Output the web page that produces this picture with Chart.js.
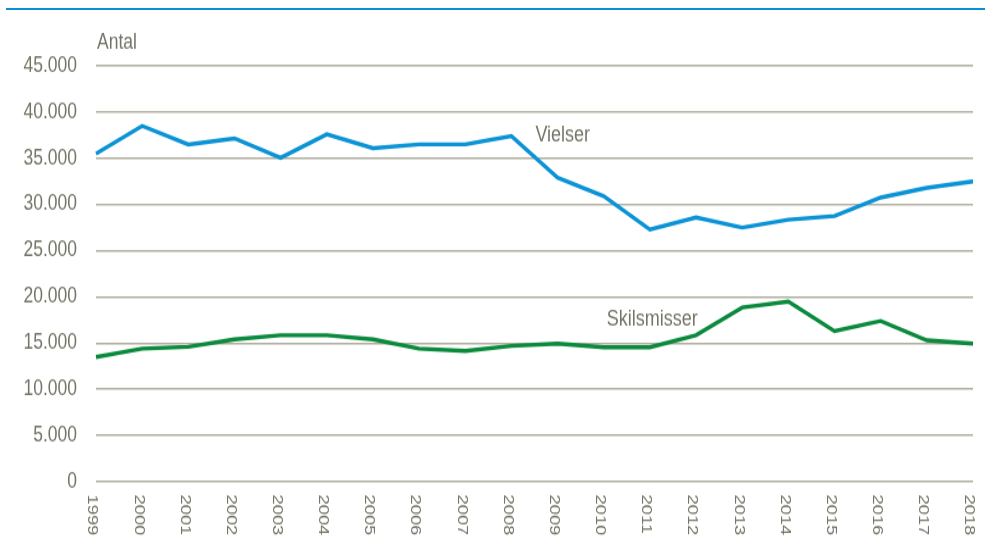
<!DOCTYPE html>
<html>
<head>
<meta charset="utf-8">
<script src="https://cdn.jsdelivr.net/npm/chart.js@4"></script>
<style>
  html, body { margin: 0; padding: 0; background: #ffffff; overflow: hidden; }
  #wrap { position: relative; width: 985px; height: 539px; }
  #rule { position: absolute; left: 6px; top: 8px; width: 979px; height: 2px; background: #0a8fd1; }
  #c { position: absolute; left: 0; top: 0; transform: scaleY(1.2195); transform-origin: 0 0; }
</style>
</head>
<body>
<div id="wrap">
  <div id="rule"></div>
  <canvas id="c" width="985" height="442"></canvas>
</div>
<script>
const years = ['1999','2000','2001','2002','2003','2004','2005','2006','2007','2008','2009','2010','2011','2012','2013','2014','2015','2016','2017','2018'];
const vielser = [35500, 38500, 36500, 37150, 35050, 37600, 36100, 36500, 36500, 37400, 32900, 30900, 27300, 28600, 27500, 28350, 28750, 30750, 31800, 32500];
const skilsmisser = [13500, 14400, 14600, 15400, 15850, 15850, 15400, 14400, 14150, 14700, 14950, 14550, 14550, 15850, 18850, 19500, 16300, 17400, 15300, 14950];
const yTicks = [0, 5000, 10000, 15000, 20000, 25000, 30000, 35000, 40000, 45000];
const yTitle = 'Antal';
const seriesNames = ['Vielser', 'Skilsmisser'];

const TEXT = '#747467';
const GRID = '#b0ad9f';
const FONT = '"Liberation Sans", Arial, sans-serif';

function fmt(v) { return String(v).replace(/\B(?=(\d{3})+(?!\d))/g, '.'); }

const labelsPlugin = {
  id: 'customLabels',
  afterDraw(chart) {
    const ctx = chart.ctx;
    const xs = chart.scales.x, ys = chart.scales.y;
    ctx.save();
    ctx.fillStyle = TEXT;
    // y title
    ctx.font = '17.5px ' + FONT;
    ctx.textAlign = 'left';
    ctx.textBaseline = 'middle';
    ctx.fillText(yTitle, xs.left + 1, 35);
    // series labels
    ctx.font = '18px ' + FONT;
    ctx.fillText(seriesNames[0], xs.getPixelForTick(9) + 24, ys.getPixelForValue(37500));
    ctx.fillText(seriesNames[1], xs.getPixelForTick(11) + 3, ys.getPixelForValue(17500));
    // x labels, rotated clockwise
    ctx.font = '15px ' + FONT;
    ctx.textAlign = 'left';
    ctx.textBaseline = 'middle';
    chart.data.labels.forEach((lab, i) => {
      const x = xs.getPixelForTick(i) - 3.5;
      ctx.save();
      ctx.translate(x, ys.bottom + 10.5);
      ctx.rotate(Math.PI / 2);
      ctx.fillText(lab, 0, 0);
      ctx.restore();
    });
    ctx.restore();
  }
};

new Chart(document.getElementById('c'), {
  type: 'line',
  data: {
    labels: years,
    datasets: [
      { label: seriesNames[0], data: vielser, borderColor: '#0b93d5', borderWidth: 3.4, pointRadius: 0, tension: 0, fill: false, borderCapStyle: 'butt', borderJoinStyle: 'miter' },
      { label: seriesNames[1], data: skilsmisser, borderColor: '#0b8a3d', borderWidth: 3.4, pointRadius: 0, tension: 0, fill: false, borderCapStyle: 'butt', borderJoinStyle: 'miter' }
    ]
  },
  options: {
    responsive: false,
    animation: false,
    devicePixelRatio: 1,
    layout: { padding: { left: 0, right: 12, top: 54, bottom: 47 } },
    plugins: { legend: { display: false }, tooltip: { enabled: false }, title: { display: false } },
    scales: {
      x: {
        offset: false,
        grid: { display: false, drawTicks: false },
        border: { display: false },
        ticks: { display: false }
      },
      y: {
        min: 0, max: 45000,
        afterFit(s) { s.width = 96; },
        afterBuildTicks(s) { s.ticks = yTicks.map(v => ({ value: v })); },
        grid: { color: GRID, lineWidth: 1.6, drawTicks: false },
        border: { display: false },
        ticks: {
          padding: 19,
          color: TEXT,
          font: { family: FONT, size: 17.5 },
          callback: v => fmt(v)
        }
      }
    }
  },
  plugins: [labelsPlugin]
});
</script>
</body>
</html>
